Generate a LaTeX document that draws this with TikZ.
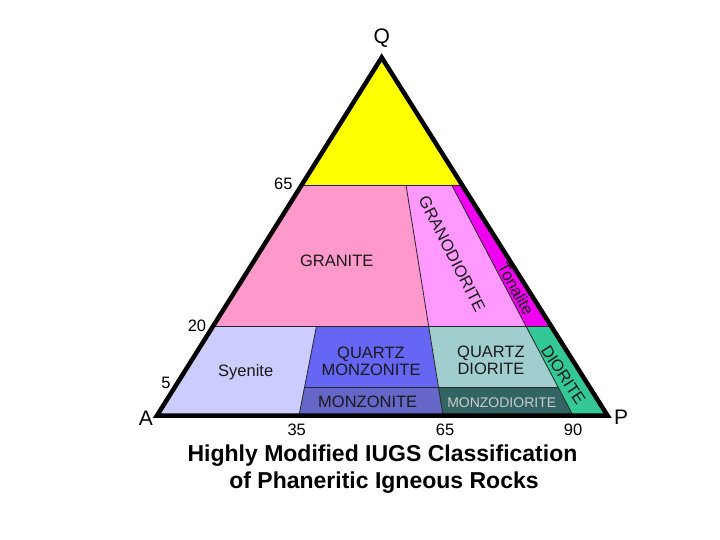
\documentclass[tikz,border=0pt]{standalone}
\usepackage{fontspec}
\setmainfont{Liberation Sans}
\definecolor{cyel}{HTML}{FFFF00}
\definecolor{cgranite}{HTML}{FF99CC}
\definecolor{cgrano}{HTML}{FF99FF}
\definecolor{ctona}{HTML}{F000F0}
\definecolor{csye}{HTML}{CCCCFF}
\definecolor{cqmonz}{HTML}{6666F5}
\definecolor{cmonz}{HTML}{6666C8}
\definecolor{cqdior}{HTML}{A0CDCD}
\definecolor{cmzd}{HTML}{336464}
\definecolor{cdior}{HTML}{33C896}
\begin{document}
\begin{tikzpicture}[x=1pt,y=-1pt,
  lab/.style={font=\fontsize{16.5}{17.7}\selectfont, inner sep=0pt, align=center, text=black!90},
  num/.style={font=\fontsize{16.5}{18}\selectfont, inner sep=0pt},
  vert/.style={font=\fontsize{21}{24}\selectfont, inner sep=0pt},
  title/.style={font=\fontsize{23}{25}\bfseries\selectfont, inner sep=0pt, anchor=base},
  thinline/.style={line width=0.8pt, black!85},
]
\useasboundingbox (0,0) rectangle (720,540);
\coordinate (A) at (157,415.5);
\coordinate (P) at (607.5,415.5);
\coordinate (Q) at (381.7,57.5);
% boundary points
\coordinate (h65l) at (100,185);
\coordinate (h65r) at (700,185);
\coordinate (h20l) at (100,326);
\coordinate (h20r) at (700,326);
\coordinate (bl) at (100,415.5);
\coordinate (br) at (700,415.5);
\coordinate (L0a) at (316.5,326);
\coordinate (L0b) at (304.6,387);
\coordinate (L0c) at (299,415.5);
\coordinate (L1a) at (406,185);
\coordinate (L1b) at (428.6,326);
\coordinate (L1c) at (438.5,387);
\coordinate (L1d) at (443,415.5);
\coordinate (L2a) at (451.7,185);
\coordinate (L2b) at (525.9,326);
\coordinate (L2c) at (557.9,387);
\coordinate (L2d) at (573,415.5);
\begin{scope}
\clip (A) -- (P) -- (Q) -- cycle;
\fill[cyel] (100,0) rectangle (h65r);
\fill[cgranite] (h65l) -- (L1a) -- (L1b) -- (h20l) -- cycle;
\fill[cgrano] (L1a) -- (L2a) -- (L2b) -- (L1b) -- cycle;
\fill[ctona] (L2a) -- (h65r) -- (h20r) -- (L2b) -- cycle;
\fill[csye] (h20l) -- (L0a) -- (L0c) -- (bl) -- cycle;
\fill[cqmonz] (L0a) -- (L1b) -- (L1c) -- (L0b) -- cycle;
\fill[cmonz] (L0b) -- (L1c) -- (L1d) -- (L0c) -- cycle;
\fill[cqdior] (L1b) -- (L2b) -- (L2c) -- (L1c) -- cycle;
\fill[cmzd] (L1c) -- (L2c) -- (L2d) -- (L1d) -- cycle;
\fill[cdior] (L2b) -- (h20r) -- (br) -- (L2d) -- cycle;
\draw[thinline] (h65l) -- (h65r);
\draw[thinline] (h20l) -- (h20r);
\draw[thinline] (L0b) -- (L2c);
\draw[thinline] (L0a) -- (L0c);
\draw[thinline] (L1a) -- (L1d);
\draw[thinline] (L2a) -- (L2d);
\end{scope}
\draw[line width=4.5pt, line join=miter] (A) -- (P) -- (Q) -- cycle;
% region labels
\node[lab] (granite) at (336.7,261.3) {GRANITE};
\node[lab, anchor=base] (syenite) at (245.7,376) {Syenite};
\node[lab] (qmonz) at (371,361.3) {QUARTZ\\MONZONITE};
\node[lab] (monz) at (367.7,401.7) {MONZONITE};
\node[lab] (qdior) at (491,360.3) {QUARTZ\\DIORITE};
\node[lab, font=\fontsize{14}{16}\selectfont, text=black!20] (mzd) at (501.7,402.8) {MONZODIORITE};
\node[lab, rotate=-63] (grano) at (452,254) {GRANODIORITE};
\node[lab, rotate=-61] (tona) at (516,289) {Tonalite};
\node[lab, rotate=-57] (dior) at (563.3,375) {DIORITE};
% vertex labels
\node[vert] (qlab) at (381.7,38) {Q};
\node[vert] (alab) at (146,418) {A};
\node[vert] (plab) at (621,417) {P};
% scale numbers
\node[num] (n65) at (283.3,184) {65};
\node[num] (n20) at (197,326) {20};
\node[num] (n5) at (166,383) {5};
\node[num] (b35) at (296.7,430) {35};
\node[num] (b65) at (445,430) {65};
\node[num] (b90) at (573,430) {90};
% title
\node[title] (t1) at (382.5,461) {Highly Modified IUGS Classification};
\node[title] (t2) at (384,488) {of Phaneritic Igneous Rocks};
\end{tikzpicture}
\end{document}
